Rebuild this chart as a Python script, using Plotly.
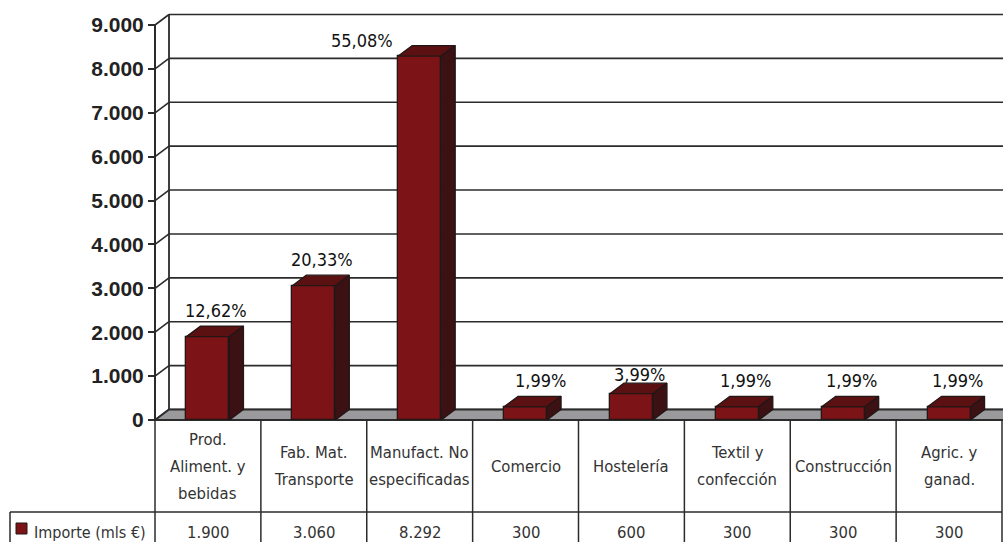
import plotly.graph_objects as go

# Importe por sector (miles de euros)
categories = ["Prod.<br>Aliment. y<br>bebidas", "Fab. Mat.<br>Transporte",
              "Manufact. No<br>especificadas", "Comercio", "Hostelería",
              "Textil y<br>confección", "Construcción", "Agric. y<br>ganad."]
importe = [1900, 3060, 8292, 300, 600, 300, 300, 300]
porcentaje = ["12,62%", "20,33%", "55,08%", "1,99%", "3,99%", "1,99%", "1,99%", "1,99%"]
y_ticks = [0, 1000, 2000, 3000, 4000, 5000, 6000, 7000, 8000, 9000]
series_name = "Importe (mls €)"

W, H = 1003, 542
AX_LEFT, AX_RIGHT = 155, 1002          # pixel span of the category axis
Y0_PX, Y9000_PX = 420, 25              # pixel rows of 0 and 9000
CAT_PX = (AX_RIGHT - AX_LEFT) / len(categories)
UNIT_PX = (Y0_PX - Y9000_PX) / 9000.0

# 3D depth offset, in data units
DX = 14 / CAT_PX
DY = 10.5 / UNIT_PX
BAR_W = 43 / CAT_PX

x_lo = -0.5 - AX_LEFT / CAT_PX
x_hi = -0.5 + (W - AX_LEFT) / CAT_PX
y_hi = Y0_PX / UNIT_PX
y_lo = -(H - Y0_PX) / UNIT_PX

FRONT = "#7c1417"
TOP = "#5b1012"
SIDE = "#3b1113"
EDGE = "#231616"
LINE = "#2b2b2b"
TEXT = "#333333"
NARROW = "DejaVu Sans Condensed, Liberation Sans Narrow, sans-serif"


def fmt(v):
    return f"{v:,}".replace(",", ".")


def py(px):
    return 1 - px / H


fig = go.Figure()

shapes = []
wall_x0 = -0.5 + DX
# back wall gridlines and side wall diagonals
for t in y_ticks:
    shapes.append(dict(type="line", xref="x", yref="y", x0=wall_x0, x1=x_hi + 1,
                       y0=t + DY, y1=t + DY, line=dict(color=LINE, width=1.6), layer="below"))
    shapes.append(dict(type="line", xref="x", yref="y", x0=-0.5, x1=wall_x0,
                       y0=t, y1=t + DY, line=dict(color=LINE, width=1.6), layer="below"))
shapes.append(dict(type="line", xref="x", yref="y", x0=wall_x0, x1=wall_x0,
                   y0=DY, y1=9000 + DY, line=dict(color=LINE, width=1.8), layer="below"))
shapes.append(dict(type="line", xref="x", yref="y", x0=-0.5, x1=-0.5,
                   y0=0, y1=9000, line=dict(color=LINE, width=2), layer="below"))
# floor
shapes.append(dict(type="path", xref="x", yref="y", layer="below",
                   path=f"M -0.5 0 L {x_hi + 1} 0 L {x_hi + 1} {DY} L {wall_x0} {DY} Z",
                   fillcolor="#9a9a9c", line=dict(color=LINE, width=1.8)))

# data table
table_top, row_split = Y0_PX, 512
for k in range(len(categories) + 1):
    shapes.append(dict(type="line", xref="x", yref="paper", x0=k - 0.5, x1=k - 0.5,
                       y0=py(table_top), y1=0, line=dict(color=LINE, width=1.5)))
shapes.append(dict(type="line", xref="paper", yref="paper", x0=10 / W, x1=AX_RIGHT / W,
                   y0=py(row_split), y1=py(row_split), line=dict(color=LINE, width=1.5)))
shapes.append(dict(type="line", xref="paper", yref="paper", x0=10 / W, x1=10 / W,
                   y0=py(row_split), y1=0, line=dict(color=LINE, width=1.5)))
shapes.append(dict(type="rect", xref="paper", yref="paper", x0=16 / W, x1=27 / W,
                   y0=py(534), y1=py(523), fillcolor=FRONT, line=dict(color=EDGE, width=1)))

# bar front faces
fig.add_trace(go.Bar(x=list(range(len(categories))), y=importe, width=BAR_W,
                     marker=dict(color=FRONT, line=dict(color=EDGE, width=1.3)),
                     hoverinfo="skip", showlegend=False))

# bar top and side faces
for i, v in enumerate(importe):
    x0, x1 = i - BAR_W / 2, i + BAR_W / 2
    fig.add_trace(go.Scatter(x=[x0, x0 + DX, x1 + DX, x1, x0], y=[v, v + DY, v + DY, v, v],
                             fill="toself", fillcolor=TOP, mode="lines",
                             line=dict(color=EDGE, width=1.3), hoverinfo="skip", showlegend=False))
    fig.add_trace(go.Scatter(x=[x1, x1 + DX, x1 + DX, x1, x1], y=[0, DY, v + DY, v, 0],
                             fill="toself", fillcolor=SIDE, mode="lines",
                             line=dict(color=EDGE, width=1.3), hoverinfo="skip", showlegend=False))

annotations = []
# share labels above each bar
nudge = {2: (-66, -11), 3: (7, 0), 4: (0, -7)}
for i, (v, p) in enumerate(zip(importe, porcentaje)):
    nx, ny = nudge.get(i, (0, 0))
    annotations.append(dict(x=i, y=v + DY, xref="x", yref="y", text=p, showarrow=False,
                            xshift=8 + nx, yshift=16 + ny, yanchor="middle",
                            font=dict(family=NARROW, size=18, color="#111111")))

# category row (line by line) and value row
row_mid = (table_top + row_split) / 2
for i, (c, v) in enumerate(zip(categories, importe)):
    lines = c.split("<br>")
    for j, ln in enumerate(lines):
        yc = row_mid + (j - (len(lines) - 1) / 2) * 27
        annotations.append(dict(x=i, y=py(yc), xref="x", yref="paper", text=ln,
                                showarrow=False, yanchor="middle",
                                font=dict(family=NARROW, size=16.5, color=TEXT)))
    annotations.append(dict(x=i, y=py(532), xref="x", yref="paper", text=fmt(v),
                            showarrow=False, yanchor="middle",
                            font=dict(family=NARROW, size=16.5, color=TEXT)))
annotations.append(dict(x=32 / W, y=py(532), xref="paper", yref="paper", text=series_name,
                        showarrow=False, xanchor="left", yanchor="middle",
                        font=dict(family=NARROW, size=16, color=TEXT)))

fig.update_layout(
    width=W, height=H, margin=dict(l=0, r=0, t=0, b=0),
    paper_bgcolor="white", plot_bgcolor="white",
    shapes=shapes, annotations=annotations, bargap=0,
    xaxis=dict(range=[x_lo, x_hi], visible=False, fixedrange=True),
    yaxis=dict(range=[y_lo, y_hi], anchor="free", position=AX_LEFT / W,
               tickvals=y_ticks, ticktext=[fmt(t) for t in y_ticks],
               ticks="outside", ticklen=7, tickwidth=2, tickcolor=LINE,
               showgrid=False, zeroline=False, showline=False,
               tickfont=dict(family="Liberation Sans, Arial, sans-serif", size=21,
                             color="#222222", weight="bold")),
)

fig.write_html("out.html")
